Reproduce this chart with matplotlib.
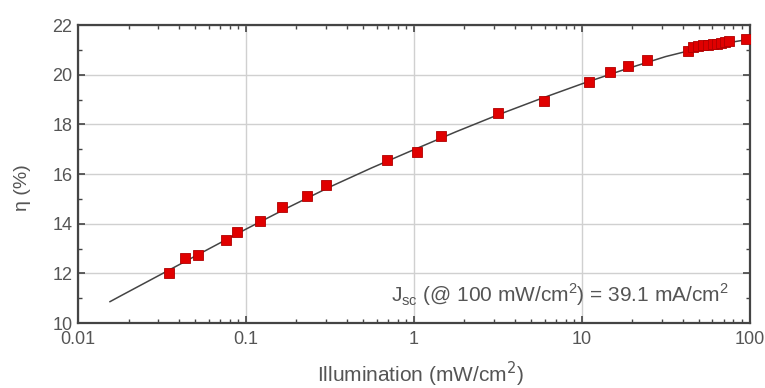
import matplotlib
matplotlib.use("Agg")
import matplotlib.pyplot as plt
from matplotlib.ticker import FixedLocator, FixedFormatter, LogLocator, NullFormatter, MultipleLocator

plt.rcParams['font.family'] = ['Liberation Sans', 'DejaVu Sans']

# measured data (illumination mW/cm^2, efficiency %)
illum = [0.0349, 0.0435, 0.052, 0.0757, 0.088, 0.121, 0.165, 0.230, 0.298,
         0.693, 1.04, 1.46, 3.18, 5.94, 11.0, 14.8, 18.9, 24.5,
         42.8, 45.8, 49.0, 52.5, 56.2, 60.2, 63.6, 67.2, 71.0, 75.0, 94.6]
eta = [12.0, 12.61, 12.74, 13.35, 13.66, 14.11, 14.69, 15.12, 15.55,
       16.57, 16.9, 17.55, 18.46, 18.96, 19.69, 20.12, 20.34, 20.6,
       20.95, 21.10, 21.16, 21.18, 21.20, 21.22, 21.24, 21.28, 21.32, 21.36, 21.43]

# fit curve
fit_x = [0.0155, 0.0178, 0.0316, 0.0562, 0.1, 0.178, 0.316, 0.562, 1, 1.78,
         3.16, 5.62, 10, 17.8, 31.6, 56.2, 100]
fit_y = [10.86, 11.08, 11.98, 12.88, 13.78, 14.65, 15.48, 16.25, 16.98, 17.7,
         18.38, 19.02, 19.63, 20.2, 20.73, 21.15, 21.43]

xticks = [0.01, 0.1, 1, 10, 100]
xticklabels = ["0.01", "0.1", "1", "10", "100"]
yticks = [10, 12, 14, 16, 18, 20, 22]

fig = plt.figure(figsize=(7.65, 3.88), dpi=100)
ax = fig.add_axes([0.102, 0.1675, 0.878, 0.768])

ax.plot(fit_x, fit_y, color='#444444', lw=1.1, zorder=3)
ax.plot(illum, eta, ls='none', marker='s', ms=6.5, mfc='#e00000', mec='#b00000',
        mew=0.6, zorder=4)

ax.set_xscale('log')
ax.set_xlim(0.01, 100)
ax.set_ylim(10, 22)
ax.xaxis.set_major_locator(FixedLocator(xticks))
ax.xaxis.set_major_formatter(FixedFormatter(xticklabels))
ax.xaxis.set_minor_locator(LogLocator(base=10, subs=range(2, 10)))
ax.xaxis.set_minor_formatter(NullFormatter())
ax.yaxis.set_major_locator(FixedLocator(yticks))
ax.yaxis.set_minor_locator(MultipleLocator(1))

ax.grid(True, which='major', color='#d0d0d0', lw=1.0)
ax.set_axisbelow(True)
ax.tick_params(which='both', direction='in', top=True, right=True,
               colors='#444444', labelcolor='#555555', labelsize=13)
ax.tick_params(axis='x', which='major', pad=6)
ax.tick_params(axis='y', which='major', pad=4)
ax.tick_params(which='major', length=5, width=1.2)
ax.tick_params(which='minor', length=3, width=1.0)
for s in ax.spines.values():
    s.set_color('#444444')
    s.set_linewidth(1.6)

ax.set_xlabel("Illumination (mW/cm$^2$)", fontsize=15, color='#555555')
ax.xaxis.set_label_coords(0.51, -0.174)
ax.xaxis.label.set_va('center')
ax.set_ylabel("η (%)", fontsize=14, color='#555555')
ax.yaxis.set_label_coords(-0.082, 0.453)
ax.yaxis.label.set_va('center')

ax.text(0.718, 0.094, "J$_{\\mathregular{sc}}$ (@ 100 mW/cm$^{\\mathregular{2}}$) = 39.1 mA/cm$^{\\mathregular{2}}$",
        transform=ax.transAxes, ha='center', va='center', fontsize=15, color='#555555')

fig.savefig("out.png", dpi=100)
